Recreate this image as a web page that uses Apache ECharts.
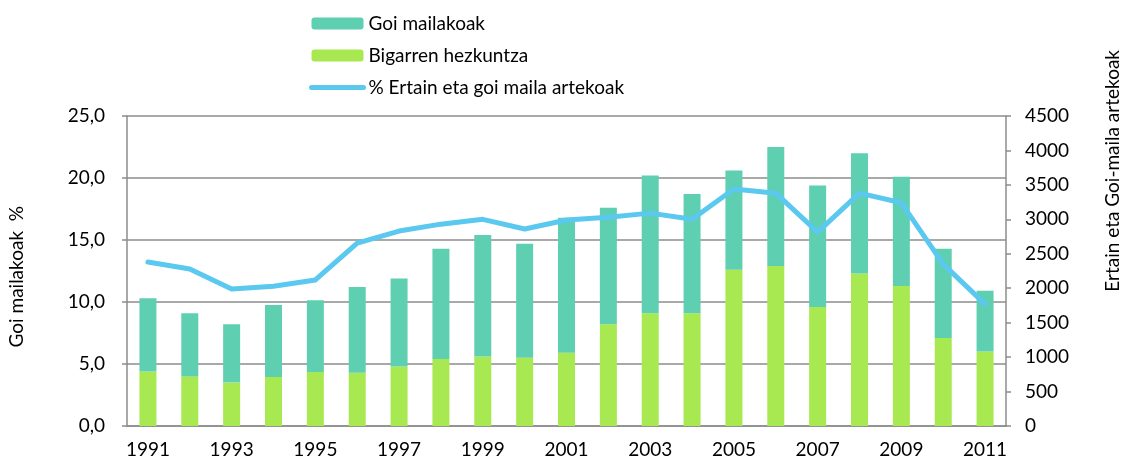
<!DOCTYPE html>
<html>
<head>
<meta charset="utf-8">
<script src="https://cdn.jsdelivr.net/npm/echarts@6/dist/echarts.min.js"></script>
<style>
  html, body { margin: 0; padding: 0; background: #fff; }
  #chart { width: 1126px; height: 462px; }
</style>
</head>
<body>
<div id="chart"></div>
<script>
const years = ["1991", "1992", "1993", "1994", "1995", "1996", "1997", "1998", "1999", "2000",
  "2001", "2002", "2003", "2004", "2005", "2006", "2007", "2008", "2009", "2010", "2011"];
// bar totals (left axis, %)
const goiTotal = [10.3, 9.1, 8.2, 9.75, 10.15, 11.2, 11.9, 14.3, 15.4, 14.7,
  16.8, 17.6, 20.2, 18.7, 20.6, 22.5, 19.4, 22.0, 20.1, 14.3, 10.9];
// lower part of the bar (left axis, %)
const bigarren = [4.4, 4.0, 3.5, 3.95, 4.35, 4.3, 4.8, 5.4, 5.6, 5.5,
  5.9, 8.2, 9.1, 9.1, 12.6, 12.9, 9.6, 12.3, 11.3, 7.1, 6.0];
// line (right axis)
const ertain = [2380, 2280, 1990, 2030, 2120, 2655, 2830, 2930, 3000, 2860,
  2990, 3030, 3090, 3000, 3440, 3380, 2815, 3380, 3240, 2350, 1770];

const goiUpper = goiTotal.map((v, i) => +(v - bigarren[i]).toFixed(2));

const font = "Lato";
const fs = 19;
const gray = "#8c8c8c";
const lineColor = "#5bc8f0";

const chart = echarts.init(document.getElementById("chart"), null, { renderer: "canvas" });
chart.setOption({
  animation: false,
  textStyle: { fontFamily: font, color: "#000" },
  legend: {
    orient: "vertical",
    left: 304,
    top: 9,
    itemWidth: 52,
    itemHeight: 12,
    itemGap: 13,
    textStyle: { fontFamily: font, fontSize: fs, color: "#000" },
    data: [
      "Goi mailakoak",
      "Bigarren hezkuntza",
      {
        name: "% Ertain eta goi maila artekoak",
        itemStyle: { opacity: 0 },
        lineStyle: { color: lineColor, width: 5, cap: "round" }
      }
    ]
  },
  grid: { left: 127, right: 120, top: 116, bottom: 36 },
  xAxis: {
    type: "category",
    data: years,
    axisLine: { lineStyle: { color: gray, width: 1.5 } },
    axisTick: { length: 5, lineStyle: { color: gray, width: 1.5 } },
    axisLabel: { interval: 1, fontSize: fs, color: "#000", margin: 14, fontFamily: font }
  },
  yAxis: [
    {
      type: "value",
      min: 0, max: 25, interval: 5,
      axisLine: { show: true, lineStyle: { color: gray, width: 1.5 } },
      axisTick: { show: true, length: 5, lineStyle: { color: gray, width: 1.5 } },
      splitLine: { lineStyle: { color: gray, width: 1.5 } },
      axisLabel: {
        fontSize: fs, color: "#000", margin: 22, fontFamily: font,
        formatter: v => v.toFixed(1).replace(".", ",")
      }
    },
    {
      type: "value",
      min: 0, max: 4500, interval: 500,
      axisLine: { show: true, lineStyle: { color: gray, width: 1.5 } },
      axisTick: { show: true, length: 5, lineStyle: { color: gray, width: 1.5 } },
      splitLine: { show: false },
      axisLabel: { fontSize: fs, color: "#000", margin: 19, fontFamily: font, formatter: v => String(v) }
    }
  ],
  graphic: [
    {
      type: "text", left: 7, top: 206, rotation: Math.PI / 2,
      style: { text: "Goi mailakoak  %", fontSize: fs, fontFamily: font, fill: "#000" }
    },
    {
      type: "text", left: 1103, top: 50, rotation: Math.PI / 2,
      style: { text: "Ertain eta Goi-maila artekoak", fontSize: fs, fontFamily: font, fill: "#000" }
    }
  ],
  series: [
    {
      name: "Bigarren hezkuntza",
      type: "bar",
      stack: "b",
      barWidth: 17,
      data: bigarren,
      itemStyle: { color: "#a8e851" }
    },
    {
      name: "Goi mailakoak",
      type: "bar",
      stack: "b",
      barWidth: 17,
      data: goiUpper,
      itemStyle: { color: "#5ecfb1" }
    },
    {
      name: "% Ertain eta goi maila artekoak",
      type: "line",
      yAxisIndex: 1,
      data: ertain,
      symbol: "none",
      lineStyle: { color: lineColor, width: 5, cap: "round", join: "round" },
      itemStyle: { color: lineColor }
    }
  ]
});
</script>
</body>
</html>
